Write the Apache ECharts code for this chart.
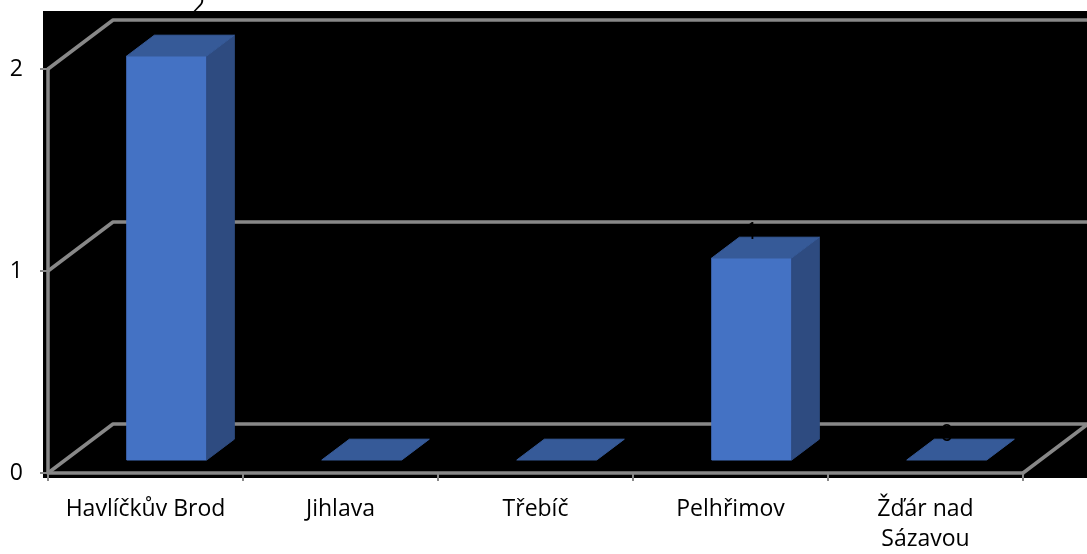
<!DOCTYPE html>
<html>
<head>
<meta charset="utf-8">
<script src="https://cdn.jsdelivr.net/npm/echarts@6/dist/echarts.min.js"></script>
<style>
  html, body { margin: 0; padding: 0; background: #fff; }
  #chart { width: 1087px; height: 554px; }
</style>
</head>
<body>
<div id="chart"></div>
<script>
// Daten
const categories = ['Havlíčkův Brod', 'Jihlava', 'Třebíč', 'Pelhřimov', 'Žďár nad Sázavou'];
const values = [2, 0, 0, 1, 0];
const dataLabels = ['2', '', '', '1', '0'];   // Jihlava und Třebíč ohne Beschriftung
const yTicks = [0, 1, 2];

// 3D Optik (Excel Stil)
const DEPTH = [65, -49];      // Tiefe der Wände
const BAR_FRONT = 0.265;      // Anteil der Tiefe bis zur Vorderseite der Säule
const BAR_BACK = 0.69;        // Anteil der Tiefe bis zur Rückseite der Säule
const BAR_WIDTH = 0.41;
const BAR_SHIFT = 4;
const GRAY = '#888888';
const FONT = '"Open Sans", sans-serif';

const chart = echarts.init(document.getElementById('chart'));

function renderWall(params, api) {
  const v = api.value(1);
  const half = api.size([1, 0])[0] / 2;
  const a = api.coord([0, v]);
  const b = api.coord([categories.length - 1, v]);
  const xl = a[0] - half;
  const xr = b[0] + half;
  const y = a[1];
  const pts = [
    [xl, y],
    [xl + DEPTH[0], y + DEPTH[1]],
    [xr + DEPTH[0], y + DEPTH[1]]
  ];
  if (v === 0) pts.push([xr, y]);  // rechte Kante vom Boden
  return {
    type: 'polyline',
    shape: { points: pts },
    style: { stroke: GRAY, lineWidth: 3.5, fill: null, lineJoin: 'round' }
  };
}

function face(type, shape, color) {
  return { type: type, shape: shape, style: { fill: color, stroke: color, lineWidth: 1 } };
}

function renderBar(params, api) {
  const idx = api.value(0);
  const v = api.value(1);
  const base = api.coord([idx, 0]);
  const top = api.coord([idx, v]);
  const w = api.size([1, 0])[0] * BAR_WIDTH;
  const fx = DEPTH[0] * BAR_FRONT, fy = DEPTH[1] * BAR_FRONT;
  const ddx = DEPTH[0] * (BAR_BACK - BAR_FRONT), ddy = DEPTH[1] * (BAR_BACK - BAR_FRONT);
  const xL = base[0] - w / 2 + fx + BAR_SHIFT;
  const xR = xL + w;
  const yB = base[1] + fy;
  const yT = top[1] + fy;

  const children = [];
  if (v > 0) {
    children.push(face('rect', { x: xL, y: yT, width: w, height: yB - yT }, '#4472C4'));
    children.push(face('polygon',
      { points: [[xR, yT], [xR, yB], [xR + ddx, yB + ddy], [xR + ddx, yT + ddy]] }, '#2E4B80'));
  }
  children.push(face('polygon',
    { points: [[xL, yT], [xR, yT], [xR + ddx, yT + ddy], [xL + ddx, yT + ddy]] }, '#365A98'));

  // Datenbeschriftung (schwarz, wie im Original)
  const txt = dataLabels[params.dataIndex];
  if (txt) {
    let lx = (xL + xR) / 2;
    let ly = yT + ddy + 7;
    if (v >= yTicks[yTicks.length - 1]) {
      // Excel hat das oberste Label über den Plotbereich geschoben
      lx = xR - 8;
      ly = 18;
    }
    children.push({
      type: 'text',
      z2: 10,
      style: {
        text: txt, x: lx, y: ly,
        align: 'center', verticalAlign: 'bottom',
        fill: '#000', font: '23px ' + FONT
      }
    });
  }
  return { type: 'group', children: children };
}

const option = {
  animation: false,
  backgroundColor: '#fff',
  graphic: [{
    type: 'rect',
    z: -10,
    left: 43, top: 11,
    shape: { width: 1044, height: 467 },
    style: { fill: '#000' }
  }],
  grid: { left: 48, right: 64, top: 69, bottom: 81 },
  xAxis: {
    type: 'category',
    data: categories,
    boundaryGap: true,
    axisLine: { show: true, lineStyle: { color: GRAY, width: 3.5 } },
    axisTick: { show: true, length: 8, lineStyle: { color: GRAY, width: 2 } },
    axisLabel: {
      interval: 0, color: '#000', fontSize: 23, fontFamily: FONT,
      margin: 21, lineHeight: 30,
      formatter: (s) => s.length > 15 ? s.replace(/ (\S+)$/, '\n$1') : s
    },
    splitLine: { show: false }
  },
  yAxis: {
    type: 'value',
    min: 0, max: 2, interval: 1,
    axisLine: { show: true, lineStyle: { color: GRAY, width: 3.5 } },
    axisTick: { show: true, length: 8, lineStyle: { color: GRAY, width: 2 } },
    axisLabel: { color: '#000', fontSize: 23, fontFamily: FONT, margin: 25 },
    splitLine: { show: false }
  },
  series: [
    {
      type: 'custom',
      name: 'walls',
      z: 1,
      renderItem: renderWall,
      data: yTicks.map(v => [0, v])
    },
    {
      type: 'custom',
      name: 'bars',
      z: 3,
      renderItem: renderBar,
      data: values.map((v, i) => [i, v])
    }
  ]
};

chart.setOption(option);
</script>
</body>
</html>
